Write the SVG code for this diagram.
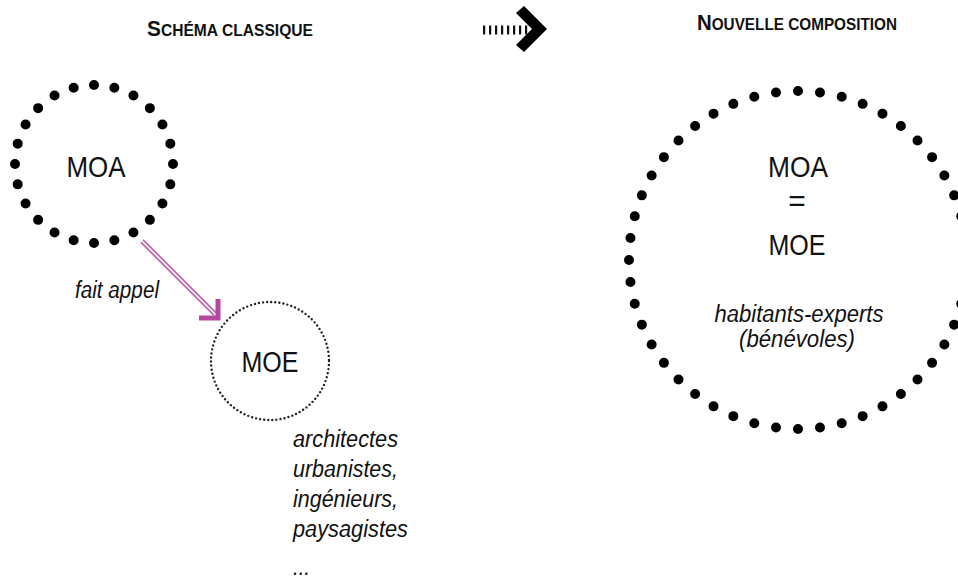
<svg xmlns="http://www.w3.org/2000/svg" width="958" height="579" viewBox="0 0 958 579">
<style>
.title{font-family:"Liberation Sans",Arial,sans-serif;font-weight:bold;fill:#111}
.big{font-size:22px}
.sc{font-size:16.5px}
.lbl{font-family:"Liberation Sans",Arial,sans-serif;font-size:30px;fill:#111;text-anchor:middle}
.it{font-family:"Liberation Sans",Arial,sans-serif;font-size:23px;font-style:italic;fill:#111}
.bigdots{fill:none;stroke:#000;stroke-width:10;stroke-linecap:round}
.smalldots{fill:none;stroke:#222;stroke-width:2.4;stroke-linecap:round;stroke-dasharray:0 4.1}
</style>
<rect width="958" height="579" fill="#fff"/>
<g id="title-left">
<text class="title" x="147" y="36" textLength="166" lengthAdjust="spacingAndGlyphs"><tspan class="big">S</tspan><tspan class="sc">CHÉMA CLASSIQUE</tspan></text>
</g>
<g id="transition-arrow">
<line x1="483" y1="30" x2="528" y2="30" stroke="#111" stroke-width="9" stroke-dasharray="2.2 3.8"/>
<polygon points="516,13 524,6 547,29 524,52 516,45 532,29" fill="#000"/>
</g>
<g id="title-right">
<text class="title" x="697" y="30" textLength="200" lengthAdjust="spacingAndGlyphs"><tspan class="big">N</tspan><tspan class="sc">OUVELLE COMPOSITION</tspan></text>
</g>
<g id="moa">
<circle class="bigdots" cx="94" cy="164" r="79" pathLength="24" stroke-dasharray="0 1"/>
<text class="lbl" x="96" y="177" textLength="59" lengthAdjust="spacingAndGlyphs">MOA</text>
</g>
<g id="moe">
<circle class="smalldots" cx="270" cy="361" r="59"/>
<text class="lbl" x="270" y="372" textLength="57" lengthAdjust="spacingAndGlyphs">MOE</text>
</g>
<g id="moe-list">
<text class="it" x="293" y="447" textLength="105" lengthAdjust="spacingAndGlyphs">architectes</text>
<text class="it" x="293" y="477" textLength="105" lengthAdjust="spacingAndGlyphs">urbanistes,</text>
<text class="it" x="293" y="507" textLength="105" lengthAdjust="spacingAndGlyphs">ingénieurs,</text>
<text class="it" x="293" y="537" textLength="115" lengthAdjust="spacingAndGlyphs">paysagistes</text>
<text class="it" x="293" y="575" textLength="17" lengthAdjust="spacingAndGlyphs">...</text>
</g>
<g id="moa-moe">
<circle class="bigdots" cx="798" cy="260" r="169" pathLength="48" stroke-dasharray="0 1"/>
<text class="lbl" x="798" y="177" textLength="60" lengthAdjust="spacingAndGlyphs">MOA</text>
<text class="lbl" x="797" y="211">=</text>
<text class="lbl" x="797" y="255" textLength="57" lengthAdjust="spacingAndGlyphs">MOE</text>
<text class="it" x="799" y="322" text-anchor="middle" textLength="169" lengthAdjust="spacingAndGlyphs">habitants-experts</text>
<text class="it" x="797" y="347" text-anchor="middle" textLength="116" lengthAdjust="spacingAndGlyphs">(bénévoles)</text>
</g>
<g id="connectors">
<line x1="142" y1="241" x2="215" y2="314" stroke="#bf62ad" stroke-width="5"/>
<line x1="140" y1="239" x2="216" y2="315" stroke="#fff" stroke-width="1.6"/>
<polyline points="218,299 218,318 199,318" fill="none" stroke="#b4479e" stroke-width="5" stroke-linejoin="miter"/>
<text class="it" x="75" y="298" textLength="84" lengthAdjust="spacingAndGlyphs">fait appel</text>
</g>
</svg>
